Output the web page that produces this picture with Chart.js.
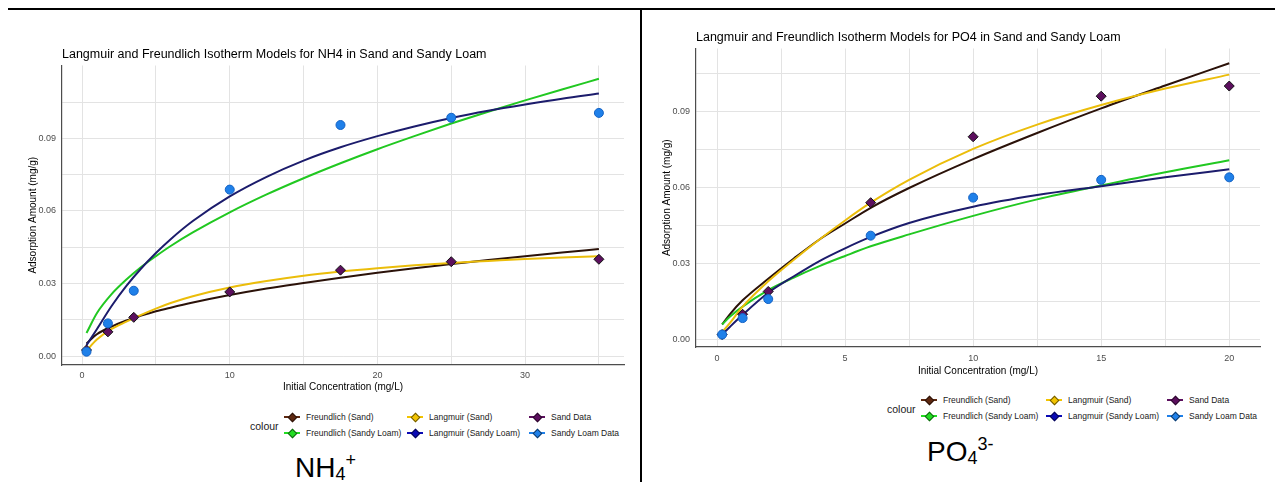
<!DOCTYPE html>
<html lang="en">
<head>
<meta charset="UTF-8">
<title>Langmuir and Freundlich Isotherm Models</title>
<script src="https://cdn.jsdelivr.net/npm/chart.js"></script>
<style>
  body { margin: 0; background: #fff; font-family: "Liberation Sans", Arial, sans-serif; }
  #page { position: relative; width: 1275px; height: 482px; overflow: hidden; }
  .rule-top { position: absolute; left: 8px; right: 0; top: 8px; height: 2px; background: #000; }
  .rule-mid { position: absolute; left: 640px; top: 8px; bottom: 0; width: 2px; background: #000; }
  canvas { position: absolute; }
  #nh4Chart { left: 0; top: 0; }
  #po4Chart { left: 643px; top: 0; }
  .legend-title { position: absolute; font-size: 10.5px; line-height: 12px; color: #1a1a1a; }
  .legend { position: absolute; display: grid; grid-auto-flow: column; grid-template-rows: 16px 16px; font-size: 8.5px; color: #1a1a1a; }
  .legend .item { display: flex; align-items: center; white-space: nowrap; }
  .key { position: relative; width: 16px; height: 12px; margin-right: 6px; flex: none; }
  .key::before { content: ''; position: absolute; left: 0; right: 0; top: 5px; height: 2px; background: var(--c); }
  .key::after { content: ''; position: absolute; left: 4.5px; top: 2.5px; width: 7px; height: 7px; box-sizing: border-box;
                transform: rotate(45deg); background: var(--c); border: 1px solid rgba(0,0,0,0.55); }
  .ion { position: absolute; font-size: 28px; line-height: 28px; color: #000; white-space: nowrap; }
  .ion span { font-size: 18px; line-height: 0; position: relative; }
  .ion .sub { top: 3px; }
  .ion .sup { top: -11px; }
</style>
</head>
<body>
<div id="page">
  <div class="rule-top"></div>
  <div class="rule-mid"></div>
  <canvas id="nh4Chart" width="640" height="400"></canvas>
  <canvas id="po4Chart" width="632" height="390"></canvas>

  <div class="legend-title" style="left:250px; top:420px;">colour</div>
  <div class="legend" id="nh4Legend" style="left:284px; top:409px; grid-template-columns:123px 122px auto;"></div>
  <div class="legend-title" style="left:887px; top:403px;">colour</div>
  <div class="legend" id="po4Legend" style="left:921px; top:392px; grid-template-columns:125px 121px auto;"></div>

  <div class="ion" style="left:295px; top:454px;">NH<span class="sub">4</span><span class="sup">+</span></div>
  <div class="ion" style="left:927px; top:438px;">PO<span class="sub">4</span><span class="sup">3-</span></div>
</div>

<script>
// series names, in legend order (ggplot fills columns first)
const seriesNames = ['Freundlich (Sand)', 'Freundlich (Sandy Loam)', 'Langmuir (Sand)',
                     'Langmuir (Sandy Loam)', 'Sand Data', 'Sandy Loam Data'];
const lineColors = ['#2b1209', '#21c821', '#ebbd0a', '#1c1c6c', '#5c0f5e', '#1f80e9'];
const keyColors  = ['#5e2810', '#22dd22', '#f3c400', '#0b0bb5', '#5c0f5e', '#1f80e9'];

// ---- NH4 ----
const nh4Conc     = [0.3, 1.75, 3.5, 10, 17.5, 25, 35];
const nh4SandData = [0.0025, 0.010, 0.016, 0.0265, 0.0355, 0.039, 0.040];
const nh4LoamData = [0.0018, 0.0135, 0.027, 0.0688, 0.0955, 0.0985, 0.1005];

const nh4CurveX     = [0.3, 1, 2, 3, 4, 5, 6, 7.5, 10, 12.5, 15, 17.5, 20, 22.5, 25, 27.5, 30, 32.5, 35];
const nh4FreundSand = [0.0052, 0.009, 0.0122, 0.0147, 0.0167, 0.0185, 0.020, 0.0221, 0.0252, 0.0279, 0.0302, 0.0324, 0.0344, 0.0363, 0.038, 0.0397, 0.0413, 0.0428, 0.0442];
const nh4FreundLoam = [0.0095, 0.0177, 0.0256, 0.0316, 0.0368, 0.0413, 0.0455, 0.0511, 0.0594, 0.0668, 0.0735, 0.0797, 0.0855, 0.0909, 0.0961, 0.101, 0.1057, 0.1102, 0.1146];
const nh4LangSand   = [0.0022, 0.0068, 0.0112, 0.0142, 0.0170, 0.0196, 0.0219, 0.0247, 0.0283, 0.031, 0.0332, 0.0349, 0.0363, 0.0375, 0.0385, 0.0393, 0.0401, 0.0407, 0.0413];
const nh4LangLoam   = [0.0045, 0.0111, 0.0207, 0.029, 0.0362, 0.0426, 0.0483, 0.0558, 0.066, 0.0741, 0.0808, 0.0863, 0.0909, 0.0949, 0.0984, 0.1014, 0.104, 0.1064, 0.1085];

const nh4XTicks  = [0, 5, 10, 15, 20, 25, 30, 35];
const nh4XLabels = [0, 10, 20, 30];
const nh4YTicks  = [0, 0.015, 0.03, 0.045, 0.06, 0.075, 0.09, 0.105];
const nh4YLabels = [0, 0.03, 0.06, 0.09];

// ---- PO4 ----
const po4Conc     = [0.2, 1, 2, 6, 10, 15, 20];
const po4SandData = [0.002, 0.010, 0.019, 0.054, 0.080, 0.096, 0.100];
const po4LoamData = [0.002, 0.0085, 0.016, 0.041, 0.056, 0.063, 0.064];

const po4CurveX     = [0.2, 0.5, 1, 2, 3, 4, 5, 6, 7.5, 10, 12.5, 15, 17.5, 20];
const po4FreundSand = [0.006, 0.010, 0.0155, 0.024, 0.032, 0.0395, 0.0458, 0.052, 0.0598, 0.0712, 0.0815, 0.0912, 0.1002, 0.109];
const po4FreundLoam = [0.006, 0.009, 0.013, 0.0195, 0.0245, 0.029, 0.033, 0.0368, 0.0415, 0.0488, 0.0553, 0.0608, 0.066, 0.0707];
const po4LangSand   = [0.003, 0.0065, 0.013, 0.023, 0.0315, 0.0395, 0.047, 0.054, 0.063, 0.0752, 0.0848, 0.0925, 0.099, 0.1045];
const po4LangLoam   = [0.002, 0.005, 0.0098, 0.0185, 0.025, 0.031, 0.036, 0.0405, 0.046, 0.0524, 0.057, 0.0605, 0.064, 0.0672];

const po4XTicks  = [0, 2.5, 5, 7.5, 10, 12.5, 15, 17.5, 20];
const po4XLabels = [0, 5, 10, 15, 20];
const po4YTicks  = [0, 0.015, 0.03, 0.045, 0.06, 0.075, 0.09, 0.105];
const po4YLabels = [0, 0.03, 0.06, 0.09];

const FONT = '"Liberation Sans", Arial, sans-serif';
Chart.defaults.font.family = FONT;

function buildChart(id, o) {
    const pts = ys => o.conc.map((x, i) => ({ x: x, y: ys[i] }));
    const curve = ys => o.curveX.map((x, i) => ({ x: x, y: ys[i] }));
    const lineSet = (name, ys, color) => ({
        label: name,
        data: curve(ys),
        showLine: true,
        pointRadius: 0,
        borderColor: color,
        backgroundColor: color,
        borderWidth: 2,
        cubicInterpolationMode: 'monotone'
    });

    return new Chart(document.getElementById(id), {
        type: 'scatter',
        data: {
            datasets: [
                {
                    label: seriesNames[5], data: pts(o.loam), pointStyle: 'circle', pointRadius: 4.5,
                    backgroundColor: lineColors[5], borderColor: '#1462c4', borderWidth: 1
                },
                {
                    label: seriesNames[4], data: pts(o.sand), pointStyle: 'rectRot', pointRadius: 5,
                    backgroundColor: lineColors[4], borderColor: '#111', borderWidth: 1
                },
                lineSet(seriesNames[3], o.langLoam, lineColors[3]),
                lineSet(seriesNames[2], o.langSand, lineColors[2]),
                lineSet(seriesNames[1], o.freundLoam, lineColors[1]),
                lineSet(seriesNames[0], o.freundSand, lineColors[0])
            ]
        },
        options: {
            responsive: false,
            animation: false,
            events: [],
            layout: { padding: o.pad },
            plugins: {
                legend: { display: false },
                tooltip: { enabled: false },
                title: {
                    display: true,
                    text: o.title,
                    align: 'start',
                    fullSize: false,
                    color: '#000',
                    font: { size: 12.5, weight: 'normal', lineHeight: 1 },
                    padding: { top: 0, bottom: 5 }
                }
            },
            scales: {
                x: {
                    type: 'linear',
                    min: o.xMin, max: o.xMax,
                    afterBuildTicks: s => { s.ticks = o.xTicks.map(v => ({ value: v })); },
                    afterFit: s => { s.height = o.xAxisH; },
                    ticks: {
                        autoSkip: false, maxRotation: 0, padding: o.xTickPad,
                        color: '#4d4d4d', font: { size: 9 },
                        callback: v => o.xLabels.includes(v) ? String(v) : ''
                    },
                    grid: { color: '#e3e3e3', lineWidth: 1, drawTicks: false },
                    border: { display: true, color: '#4d4d4d', width: 1.2 },
                    title: {
                        display: true, text: 'Initial Concentration (mg/L)', color: '#000',
                        font: { size: 10, lineHeight: 1 }, padding: { top: 0, bottom: o.xTitlePad }
                    }
                },
                y: {
                    type: 'linear',
                    min: o.yMin, max: o.yMax,
                    afterBuildTicks: s => { s.ticks = o.yTicks.map(v => ({ value: v })); },
                    afterFit: s => { s.width = o.yAxisW; },
                    ticks: {
                        autoSkip: false, padding: 6,
                        color: '#4d4d4d', font: { size: 9 },
                        callback: v => o.yLabels.includes(v) ? v.toFixed(2) : ''
                    },
                    grid: { color: '#e3e3e3', lineWidth: 1, drawTicks: false },
                    border: { display: true, color: '#4d4d4d', width: 1.2 },
                    title: {
                        display: true, text: 'Adsorption Amount (mg/g)', color: '#000',
                        font: { size: 10, lineHeight: 1 }, padding: { top: o.yTitlePad, bottom: 0 }
                    }
                }
            }
        }
    });
}

function buildLegend(id) {
    const box = document.getElementById(id);
    seriesNames.forEach((name, i) => {
        const item = document.createElement('div');
        item.className = 'item';
        const key = document.createElement('span');
        key.className = 'key';
        key.style.setProperty('--c', keyColors[i]);
        item.appendChild(key);
        item.appendChild(document.createTextNode(name));
        box.appendChild(item);
    });
}

buildChart('nh4Chart', {
    title: 'Langmuir and Freundlich Isotherm Models for NH4 in Sand and Sandy Loam',
    conc: nh4Conc, sand: nh4SandData, loam: nh4LoamData,
    curveX: nh4CurveX, freundSand: nh4FreundSand, freundLoam: nh4FreundLoam,
    langSand: nh4LangSand, langLoam: nh4LangLoam,
    xTicks: nh4XTicks, xLabels: nh4XLabels, yTicks: nh4YTicks, yLabels: nh4YLabels,
    xMin: -1.36, xMax: 36.7, yMin: -0.0037, yMax: 0.1201,
    pad: { top: 48, right: 16, bottom: 5, left: 0 },
    xAxisH: 30, xTickPad: 5, xTitlePad: 3, yAxisW: 62, yTitlePad: 28
});

buildChart('po4Chart', {
    title: 'Langmuir and Freundlich Isotherm Models for PO4 in Sand and Sandy Loam',
    conc: po4Conc, sand: po4SandData, loam: po4LoamData,
    curveX: po4CurveX, freundSand: po4FreundSand, freundLoam: po4FreundLoam,
    langSand: po4LangSand, langLoam: po4LangLoam,
    xTicks: po4XTicks, xLabels: po4XLabels, yTicks: po4YTicks, yLabels: po4YLabels,
    xMin: -0.82, xMax: 21.2, yMin: -0.0029, yMax: 0.1148,
    pad: { top: 31, right: 15, bottom: 11, left: 0 },
    xAxisH: 32, xTickPad: 6, xTitlePad: 3, yAxisW: 53, yTitlePad: 19
});

buildLegend('nh4Legend');
buildLegend('po4Legend');
</script>
</body>
</html>
